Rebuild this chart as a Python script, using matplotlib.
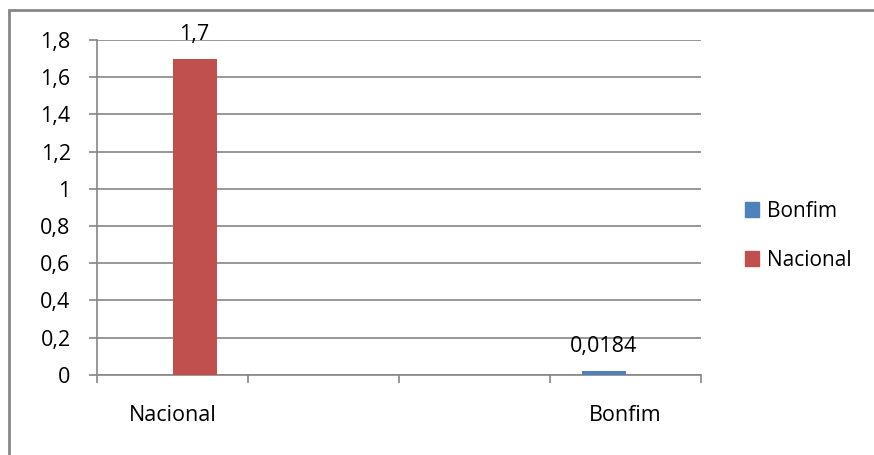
import numpy as np
import matplotlib.pyplot as plt
from matplotlib.patches import Rectangle, Patch

# categories (the two middle rows are blank in the source sheet)
categories = ["Nacional", "", "", "Bonfim"]
bonfim = [np.nan, np.nan, np.nan, 0.0184]
nacional = [1.7, np.nan, np.nan, np.nan]
bonfim_labels = ["", "", "", "0,0184"]
nacional_labels = ["1,7", "", "", ""]
yticks = [0, 0.2, 0.4, 0.6, 0.8, 1.0, 1.2, 1.4, 1.6, 1.8]

blue = "#4f81bd"
red = "#c0504d"
gray = "#868686"
fs = 15.5

plt.rcParams['font.family'] = ['Open Sans', 'DejaVu Sans']

fig = plt.figure(figsize=(8.74, 4.55), dpi=100)
# outer chart border (only top and left visible in the original crop)
fig.patches.append(Rectangle((9 / 874, -0.1), 1.2, 1 - 10 / 455 + 0.1,
                             transform=fig.transFigure, fill=False,
                             edgecolor=gray, linewidth=2))

ax = fig.add_axes([97 / 874, 80.3 / 455, 604 / 874, 334.7 / 455])

x = np.arange(len(categories))
w = 44 / 151
b1 = ax.bar(x - w / 2, bonfim, w, color=blue, label="Bonfim", zorder=3)
b2 = ax.bar(x + w / 2, nacional, w, color=red, label="Nacional", zorder=3)
ax.bar_label(b1, labels=bonfim_labels, padding=10, fontsize=fs)
ax.bar_label(b2, labels=nacional_labels, padding=10, fontsize=fs)

ax.set_xlim(-0.5, len(categories) - 0.5)
ax.set_ylim(0, 1.8)
ax.set_yticks(yticks)
ax.set_yticklabels([("%g" % v).replace(".", ",") for v in yticks], fontsize=fs)
ax.grid(axis='y', color=gray, linewidth=1.2, zorder=0)

# category boundary ticks, labels at the centres
ax.set_xticks(np.arange(len(categories) + 1) - 0.5)
ax.set_xticklabels([])
ax.set_xticks(x, minor=True)
ax.set_xticklabels(categories, minor=True, fontsize=fs)
ax.tick_params(axis='x', which='major', length=6, color=gray, width=1.2)
ax.tick_params(axis='x', which='minor', length=0, pad=22)
ax.tick_params(axis='y', length=6, color=gray, width=1.2, pad=13)

for s in ['top', 'right']:
    ax.spines[s].set_visible(False)
for s in ['left', 'bottom']:
    ax.spines[s].set_color(gray)
    ax.spines[s].set_linewidth(1.2)

handles = [Patch(color=blue, label="Bonfim"), Patch(color=red, label="Nacional")]
fig.legend(handles=handles, loc='center left', bbox_to_anchor=(726 / 874, 1 - 236 / 455),
           frameon=False, fontsize=15, handlelength=0.7, handleheight=0.7,
           handletextpad=0.35, labelspacing=1.35)

fig.savefig("out.png", dpi=100)
